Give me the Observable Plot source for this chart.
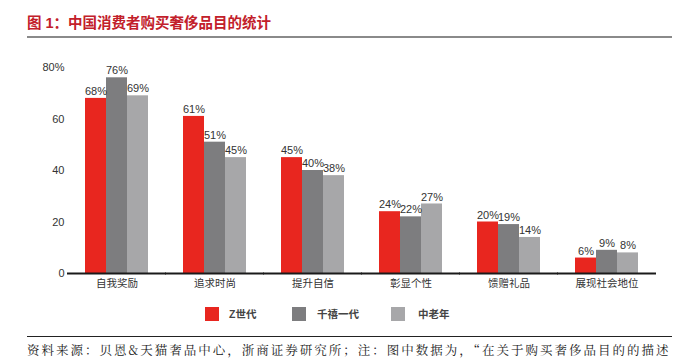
<!DOCTYPE html>
<html>
<head>
<meta charset="utf-8">
<script src="https://cdn.jsdelivr.net/npm/d3@7"></script>
<script src="https://cdn.jsdelivr.net/npm/@observablehq/plot@0.6"></script>
<style>
  html, body { margin: 0; padding: 0; background: #fff; }
  body { width: 681px; height: 363px; position: relative; overflow: hidden;
         font-family: "Liberation Sans", "Noto Sans CJK SC", sans-serif; }
  #title { position: absolute; left: 27px; top: 11px; font-size: 14.5px; font-weight: bold;
           color: #c2202a; white-space: nowrap; font-family: "Liberation Sans", "Noto Sans CJK SC", sans-serif; }
  #rule1 { position: absolute; left: 27px; top: 35.5px; width: 645px; height: 2px; background: #8a8a8a; }
  #chart { position: absolute; left: 0; top: 40px; }
  #legend { position: absolute; top: 307px; left: 0; width: 681px; height: 14px; }
  .sw { position: absolute; top: 0; width: 14px; height: 14px; }
  .lt { position: absolute; top: -1px; font-size: 10.5px; font-weight: bold; color: #444; line-height: 16px;
        font-family: "Liberation Sans", "Noto Sans CJK SC", sans-serif; white-space: nowrap; }
  #rule2 { position: absolute; left: 27px; top: 336px; width: 645px; height: 1px; background: #222; }
  #footer { position: absolute; left: 27px; top: 341px; font-size: 12.5px; letter-spacing: 2px; color: #222;
            white-space: nowrap; font-family: "Noto Serif CJK SC", "Noto Sans CJK SC", serif; }
  #chart [aria-label^="fx-axis"] text { font-size: 10.5px; }
</style>
</head>
<body>
<div id="title">图 1：中国消费者购买奢侈品目的统计</div>
<div id="rule1"></div>
<div id="chart"></div>
<div id="legend"></div>
<div id="rule2"></div>
<div id="footer">资料来源：贝恩&amp;天猫奢品中心，浙商证券研究所；注：图中数据为，“在关于购买奢侈品目的的描述</div>
<script>
const categories = ["自我奖励", "追求时尚", "提升自信", "彰显个性", "馈赠礼品", "展现社会地位"];
const series = ["Z世代", "千禧一代", "中老年"];
const genZ = [68, 61, 45, 24, 20, 6];
const millennials = [76, 51, 40, 22, 19, 9];
const seniors = [69, 45, 38, 27, 14, 8];
const yTicks = [0, 20, 40, 60, 80];
const colors = ["#e8261f", "#7d7d7f", "#a7a7a9"];

const values = [genZ, millennials, seniors];
const data = [];
categories.forEach((c, i) => {
  series.forEach((s, j) => data.push({cat: c, series: s, value: values[j][i]}));
});

const chart = Plot.plot({
  width: 681,
  height: 258,
  marginLeft: 65,
  marginRight: 22,
  marginTop: 27,
  marginBottom: 25,
  style: {fontSize: "11px", fontFamily: "'Liberation Sans', 'Noto Sans CJK SC', sans-serif", color: "#333", background: "transparent"},
  fx: {domain: categories, paddingInner: 0.333, paddingOuter: 0.17, axis: "bottom", label: null, tickSize: 0, tickPadding: 6},
  x: {domain: series, padding: 0, axis: null},
  y: {domain: [0, 80], ticks: yTicks, tickFormat: d => d === 80 ? "80%" : String(d), tickSize: 0, tickPadding: 20, label: null},
  color: {domain: series, range: colors},
  marks: [
    Plot.barY(data, {fx: "cat", x: "series", y: "value", fill: "series"}),
    Plot.text(data, {fx: "cat", x: "series", y: "value", text: d => d.value + "%", dy: -7, fill: "#333", fontSize: 11}),
    Plot.ruleY([0], {stroke: "#1a1a1a", strokeWidth: 2, insetLeft: -17, insetRight: -17})
  ]
});
document.getElementById("chart").appendChild(chart);

// legend
const legend = document.getElementById("legend");
const swX = [205, 292, 391];
const txX = [229, 317, 418];
series.forEach((s, i) => {
  const sw = document.createElement("div");
  sw.className = "sw"; sw.style.left = swX[i] + "px"; sw.style.background = colors[i];
  legend.appendChild(sw);
  const t = document.createElement("div");
  t.className = "lt"; t.style.left = txX[i] + "px"; t.textContent = s;
  legend.appendChild(t);
});
</script>
</body>
</html>
